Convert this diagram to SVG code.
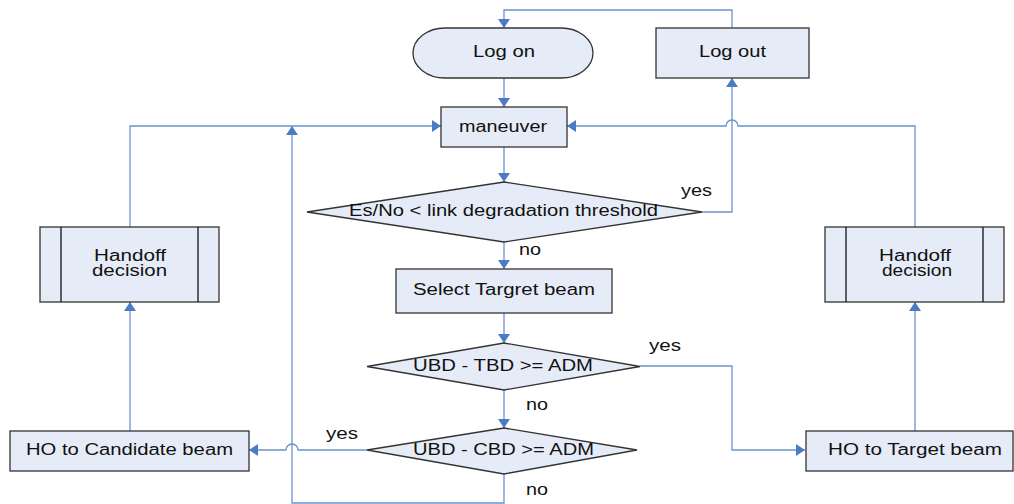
<svg xmlns="http://www.w3.org/2000/svg" width="1014" height="504" viewBox="0 0 1014 504">
<style>
.n{fill:#E6ECF7;stroke:#333;stroke-width:1.3}
.t{font-family:"Liberation Sans",Arial,sans-serif;font-size:16px;fill:#111;text-anchor:middle}
.l{font-family:"Liberation Sans",Arial,sans-serif;font-size:16px;fill:#111}
.c{fill:none;stroke:#6A92CF;stroke-width:1.3}
</style>
<defs>
<marker id="a" markerUnits="userSpaceOnUse" markerWidth="12" markerHeight="12" refX="9" refY="6" orient="auto">
<path d="M0,0 L9,6 L0,12 z" fill="#4A7BC4"/>
</marker>
</defs>
<rect width="1014" height="504" fill="#fff"/>
<g id="connectors">
<path class="c" d="M732,28 V10 H504 V28" marker-end="url(#a)"/>
<path class="c" d="M504,78 V107" marker-end="url(#a)"/>
<path class="c" d="M504,147 V182" marker-end="url(#a)"/>
<path class="c" d="M702,212 H732 V78" marker-end="url(#a)"/>
<path class="c" d="M504,242 V269" marker-end="url(#a)"/>
<path class="c" d="M504,313 V343" marker-end="url(#a)"/>
<path class="c" d="M504,390 V428" marker-end="url(#a)"/>
<path class="c" d="M640,366 H732 V450 H805" marker-end="url(#a)"/>
<path class="c" d="M367,450 H298 A6,6 0 0 0 286,450 H249" marker-end="url(#a)"/>
<path class="c" d="M504,474 V503 H292 V126" marker-end="url(#a)"/>
<path class="c" d="M130,227 V126 H441" marker-end="url(#a)"/>
<path class="c" d="M130,431 V302" marker-end="url(#a)"/>
<path class="c" d="M915,431 V302" marker-end="url(#a)"/>
<path class="c" d="M915,227 V126 H738 A6,6 0 0 0 726,126 H567" marker-end="url(#a)"/>
<text class="l" x="681" y="196" textLength="31" lengthAdjust="spacingAndGlyphs">yes</text>
<text class="l" x="519" y="255" textLength="22" lengthAdjust="spacingAndGlyphs">no</text>
<text class="l" x="649" y="351" textLength="32" lengthAdjust="spacingAndGlyphs">yes</text>
<text class="l" x="526" y="410" textLength="22" lengthAdjust="spacingAndGlyphs">no</text>
<text class="l" x="326" y="439" textLength="32" lengthAdjust="spacingAndGlyphs">yes</text>
<text class="l" x="526" y="495" textLength="22" lengthAdjust="spacingAndGlyphs">no</text>
</g>
<g id="logon">
<rect class="n" x="413" y="28" width="180" height="50" rx="32" ry="25"/>
<text class="t" x="504" y="57" textLength="62" lengthAdjust="spacingAndGlyphs">Log on</text>
</g>
<g id="logout">
<rect class="n" x="656" y="28" width="153" height="50"/>
<text class="t" x="732.5" y="57" textLength="67" lengthAdjust="spacingAndGlyphs">Log out</text>
</g>
<g id="maneuver">
<rect class="n" x="441" y="107" width="126" height="40"/>
<text class="t" x="503" y="132" textLength="88" lengthAdjust="spacingAndGlyphs">maneuver</text>
</g>
<g id="check-esno">
<polygon class="n" points="307,212 504,182 702,212 504,242"/>
<text class="t" x="503.5" y="216" textLength="309" lengthAdjust="spacingAndGlyphs">Es/No &lt; link degradation threshold</text>
</g>
<g id="select">
<rect class="n" x="396" y="269" width="216" height="44"/>
<text class="t" x="504" y="295" textLength="182" lengthAdjust="spacingAndGlyphs">Select Targret beam</text>
</g>
<g id="check-tbd">
<polygon class="n" points="367,366.5 504,343 640,366.5 504,390"/>
<text class="t" x="503" y="371" textLength="180" lengthAdjust="spacingAndGlyphs">UBD - TBD &gt;= ADM</text>
</g>
<g id="check-cbd">
<polygon class="n" points="367,450 504,428 637,450 504,474"/>
<text class="t" x="503.5" y="455" textLength="181" lengthAdjust="spacingAndGlyphs">UBD - CBD &gt;= ADM</text>
</g>
<g id="ho-candidate">
<rect class="n" x="10" y="431" width="239" height="40"/>
<text class="t" x="129.5" y="455" textLength="207" lengthAdjust="spacingAndGlyphs">HO to Candidate beam</text>
</g>
<g id="ho-target">
<rect class="n" x="806" y="431" width="207" height="40"/>
<text class="t" x="915" y="455" textLength="174" lengthAdjust="spacingAndGlyphs">HO to Target beam</text>
</g>
<g id="handoff-left">
<rect class="n" x="40" y="227" width="179" height="75"/>
<path d="M61,227 V302 M198,227 V302" stroke="#111" stroke-width="1.3"/>
<text class="t" x="130" y="261" font-size="15" textLength="72" lengthAdjust="spacingAndGlyphs">Handoff</text>
<text class="t" x="129.5" y="276" font-size="15" textLength="75" lengthAdjust="spacingAndGlyphs">decision</text>
</g>
<g id="handoff-right">
<rect class="n" x="825" y="227" width="179" height="75"/>
<path d="M846,227 V302 M983,227 V302" stroke="#111" stroke-width="1.3"/>
<text class="t" x="915" y="261" font-size="15" textLength="72" lengthAdjust="spacingAndGlyphs">Handoff</text>
<text class="t" x="917" y="276" font-size="15" textLength="70" lengthAdjust="spacingAndGlyphs">decision</text>
</g>
</svg>
